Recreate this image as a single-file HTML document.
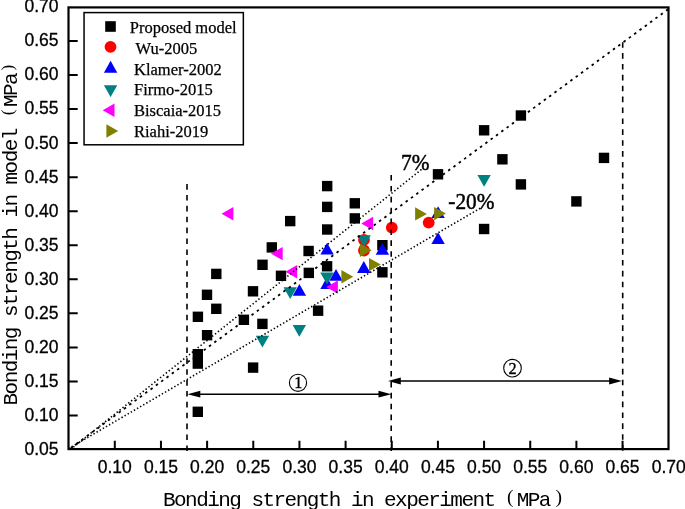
<!DOCTYPE html><html><head><meta charset="utf-8"><style>html,body{margin:0;padding:0;background:#fff;}svg{display:block;will-change:transform;}</style></head><body>
<svg width="685" height="509" viewBox="0 0 685 509">
<rect width="685" height="509" fill="#fff"/>
<g fill="#000"><rect x="192.60" y="349.00" width="10.4" height="10.4"/><rect x="192.60" y="358.40" width="10.4" height="10.4"/><rect x="192.60" y="406.60" width="10.4" height="10.4"/><rect x="192.70" y="311.60" width="10.4" height="10.4"/><rect x="201.80" y="289.60" width="10.4" height="10.4"/><rect x="201.90" y="330.00" width="10.4" height="10.4"/><rect x="211.10" y="268.70" width="10.4" height="10.4"/><rect x="211.10" y="303.60" width="10.4" height="10.4"/><rect x="238.70" y="314.60" width="10.4" height="10.4"/><rect x="247.80" y="286.10" width="10.4" height="10.4"/><rect x="247.90" y="362.40" width="10.4" height="10.4"/><rect x="257.30" y="259.60" width="10.4" height="10.4"/><rect x="257.20" y="318.70" width="10.4" height="10.4"/><rect x="266.60" y="242.20" width="10.4" height="10.4"/><rect x="275.80" y="270.60" width="10.4" height="10.4"/><rect x="285.00" y="215.90" width="10.4" height="10.4"/><rect x="303.40" y="245.80" width="10.4" height="10.4"/><rect x="303.60" y="267.70" width="10.4" height="10.4"/><rect x="312.90" y="305.50" width="10.4" height="10.4"/><rect x="322.00" y="180.90" width="10.4" height="10.4"/><rect x="322.00" y="201.70" width="10.4" height="10.4"/><rect x="322.00" y="224.30" width="10.4" height="10.4"/><rect x="321.90" y="261.10" width="10.4" height="10.4"/><rect x="349.60" y="198.10" width="10.4" height="10.4"/><rect x="349.60" y="213.20" width="10.4" height="10.4"/><rect x="377.20" y="240.00" width="10.4" height="10.4"/><rect x="377.20" y="267.10" width="10.4" height="10.4"/><rect x="432.80" y="169.10" width="10.4" height="10.4"/><rect x="478.90" y="125.10" width="10.4" height="10.4"/><rect x="478.90" y="223.80" width="10.4" height="10.4"/><rect x="497.20" y="154.10" width="10.4" height="10.4"/><rect x="515.70" y="110.30" width="10.4" height="10.4"/><rect x="515.70" y="179.20" width="10.4" height="10.4"/><rect x="571.20" y="196.20" width="10.4" height="10.4"/><rect x="598.80" y="152.70" width="10.4" height="10.4"/></g>
<g fill="#ff0000"><circle cx="391.80" cy="227.60" r="5.9"/><circle cx="364.00" cy="239.90" r="5.9"/><circle cx="364.00" cy="250.50" r="5.9"/><circle cx="428.70" cy="222.60" r="5.9"/></g>
<g fill="#0000ff"><path d="M327.10 242.80L333.80 254.60L320.40 254.60Z"/><path d="M382.40 242.90L389.10 254.70L375.70 254.70Z"/><path d="M336.00 269.00L342.70 280.80L329.30 280.80Z"/><path d="M327.00 277.10L333.70 288.90L320.30 288.90Z"/><path d="M299.40 284.00L306.10 295.80L292.70 295.80Z"/><path d="M363.80 261.10L370.50 272.90L357.10 272.90Z"/><path d="M438.10 206.20L444.80 218.00L431.40 218.00Z"/><path d="M438.10 232.30L444.80 244.10L431.40 244.10Z"/></g>
<g fill="#008080"><path d="M364.10 247.10L370.80 235.30L357.40 235.30Z"/><path d="M327.00 284.40L333.70 272.60L320.30 272.60Z"/><path d="M290.20 299.00L296.90 287.20L283.50 287.20Z"/><path d="M299.30 336.80L306.00 325.00L292.60 325.00Z"/><path d="M262.40 347.60L269.10 335.80L255.70 335.80Z"/><path d="M484.10 186.80L490.80 175.00L477.40 175.00Z"/></g>
<g fill="#ff00ff"><path d="M221.60 213.80L233.40 207.10L233.40 220.50Z"/><path d="M270.90 253.60L282.70 246.90L282.70 260.30Z"/><path d="M285.40 271.70L297.20 265.00L297.20 278.40Z"/><path d="M361.30 223.50L373.10 216.80L373.10 230.20Z"/><path d="M326.10 287.10L337.90 280.40L337.90 293.80Z"/></g>
<g fill="#808000"><path d="M371.70 250.30L359.90 243.60L359.90 257.00Z"/><path d="M380.80 264.60L369.00 257.90L369.00 271.30Z"/><path d="M353.20 276.80L341.40 270.10L341.40 283.50Z"/><path d="M426.90 213.90L415.10 207.20L415.10 220.60Z"/><path d="M445.90 213.60L434.10 206.90L434.10 220.30Z"/></g>
<line x1="68.6" y1="449.6" x2="668.5" y2="9.0" stroke="#000" stroke-width="1.8" stroke-dasharray="2.5 4.094" stroke-dashoffset="-2.77"/>
<line x1="70.4" y1="449.5" x2="421.8" y2="169.2" stroke="#000" stroke-width="1.6" stroke-dasharray="1.4 2.3"/>
<line x1="68.6" y1="448.6" x2="481.8" y2="207.3" stroke="#000" stroke-width="1.6" stroke-dasharray="1.4 2.2"/>
<g stroke="#000" stroke-width="1.6" stroke-dasharray="5.6 5.29">
<line x1="187.0" y1="451" x2="187.0" y2="184.0"/>
<line x1="391.2" y1="175" x2="391.2" y2="451"/>
<line x1="622.7" y1="450.7" x2="622.7" y2="41.6"/>
</g>
<g fill="#000"><line x1="193.5" y1="394.2" x2="385.3" y2="394.2" stroke="#000" stroke-width="1.6"/><path d="M187.5 394.2L200.3 390.8L200.3 397.59999999999997Z"/><path d="M391.3 394.2L378.5 390.8L378.5 397.59999999999997Z"/><line x1="394.0" y1="381.0" x2="615.9" y2="381.0" stroke="#000" stroke-width="1.6"/><path d="M388.0 381.0L400.8 377.6L400.8 384.4Z"/><path d="M621.9 381.0L609.1 377.6L609.1 384.4Z"/></g>
<g fill="none" stroke="#000" stroke-width="1.1"><circle cx="298" cy="382.8" r="8.6"/><circle cx="512.5" cy="368.2" r="8.8"/></g>
<g font-family="Liberation Serif, serif" font-size="16.3" text-anchor="middle" fill="#000" stroke="#000" stroke-width="0.35"><text x="298.2" y="388.3">1</text><text x="512.6" y="373.8">2</text></g>
<rect x="68.5" y="7.4" width="600.0" height="441.70000000000005" fill="none" stroke="#000" stroke-width="2.2"/>
<path d="M68.5 415.50H77.7M68.5 381.45H77.7M68.5 347.40H77.7M68.5 313.35H77.7M68.5 279.30H77.7M68.5 245.25H77.7M68.5 211.20H77.7M68.5 177.15H77.7M68.5 143.10H77.7M68.5 109.05H77.7M68.5 75.00H77.7M68.5 40.95H77.7M114.80 449.1V440.8M160.96 449.1V440.8M207.12 449.1V440.8M253.28 449.1V440.8M299.44 449.1V440.8M345.60 449.1V440.8M391.76 449.1V440.8M437.92 449.1V440.8M484.08 449.1V440.8M530.24 449.1V440.8M576.40 449.1V440.8M622.56 449.1V440.8" stroke="#000" stroke-width="2" fill="none"/>
<g font-family="Liberation Sans, sans-serif" font-size="17.5" fill="#000" stroke="#000" stroke-width="0.3"><text x="58.5" y="454.95" text-anchor="end">0.05</text><text x="58.5" y="420.90" text-anchor="end">0.10</text><text x="58.5" y="386.85" text-anchor="end">0.15</text><text x="58.5" y="352.80" text-anchor="end">0.20</text><text x="58.5" y="318.75" text-anchor="end">0.25</text><text x="58.5" y="284.70" text-anchor="end">0.30</text><text x="58.5" y="250.65" text-anchor="end">0.35</text><text x="58.5" y="216.60" text-anchor="end">0.40</text><text x="58.5" y="182.55" text-anchor="end">0.45</text><text x="58.5" y="148.50" text-anchor="end">0.50</text><text x="58.5" y="114.45" text-anchor="end">0.55</text><text x="58.5" y="80.40" text-anchor="end">0.60</text><text x="58.5" y="46.35" text-anchor="end">0.65</text><text x="58.5" y="12.30" text-anchor="end">0.70</text><text x="114.80" y="473.3" text-anchor="middle">0.10</text><text x="160.96" y="473.3" text-anchor="middle">0.15</text><text x="207.12" y="473.3" text-anchor="middle">0.20</text><text x="253.28" y="473.3" text-anchor="middle">0.25</text><text x="299.44" y="473.3" text-anchor="middle">0.30</text><text x="345.60" y="473.3" text-anchor="middle">0.35</text><text x="391.76" y="473.3" text-anchor="middle">0.40</text><text x="437.92" y="473.3" text-anchor="middle">0.45</text><text x="484.08" y="473.3" text-anchor="middle">0.50</text><text x="530.24" y="473.3" text-anchor="middle">0.55</text><text x="576.40" y="473.3" text-anchor="middle">0.60</text><text x="622.56" y="473.3" text-anchor="middle">0.65</text><text x="668.72" y="473.3" text-anchor="middle">0.70</text></g>
<g font-family="Liberation Serif, serif" font-size="21.3" fill="#000" stroke="#000" stroke-width="0.45"><text transform="translate(401.0,169.7) scale(1,1.09)">7%</text><text transform="translate(448.3,208.5) scale(1,1.09)">-20%</text></g>
<rect x="84.05" y="12.6" width="159.3" height="132.2" fill="#fff" stroke="#000" stroke-width="1.5"/>
<g fill="#000"><rect x="105.20" y="21.20" width="10.6" height="10.6"/></g><g fill="#ff0000"><circle cx="110.50" cy="46.80" r="5.9"/></g><g fill="#0000ff"><path d="M110.60 60.85L117.30 72.65L103.90 72.65Z"/></g><g fill="#008080"><path d="M110.60 97.10L117.30 85.30L103.90 85.30Z"/></g><g fill="#ff00ff"><path d="M102.70 110.20L114.50 103.50L114.50 116.90Z"/></g><g fill="#808000"><path d="M118.20 131.00L106.40 124.30L106.40 137.70Z"/></g>
<g font-family="Liberation Serif, serif" font-size="16.5" fill="#000" stroke="#000" stroke-width="0.25"><text x="129.8" y="32.6">Proposed model</text><text x="135.6" y="54.1">Wu-2005</text><text x="134.0" y="74.8">Klamer-2002</text><text x="134.0" y="95.0">Firmo-2015</text><text x="134.0" y="116.2">Biscaia-2015</text><text x="134.0" y="136.9">Riahi-2019</text></g>
<text x="163.03 174.08 185.12 196.18 207.22 218.28 229.33 240.38 251.43 262.48 273.53 284.58 295.63 306.68 317.73 328.78 339.83 350.88 361.93 372.98 384.03 395.08 406.13 417.18 428.23 439.28 450.33 461.38 472.43 483.48 494.53 505.58 516.63 527.68 538.73 549.77" y="505.6" font-family="Liberation Mono, monospace" font-size="21" fill="#000" xml:space="preserve">Bonding strength in experiment  MPa </text>
<g font-family="Liberation Serif, serif" font-size="19.5" text-anchor="middle" fill="#000"><text x="510.25" y="502.7">(</text><text x="558.85" y="502.7">)</text></g>
<text transform="translate(17,404.7) rotate(-90)" x="-0.77 10.28 21.33 32.38 43.43 54.48 65.53 76.58 87.62 98.67 109.72 120.78 131.83 142.88 153.93 164.97 176.03 187.08 198.12 209.18 220.22 231.28 242.33 253.38 264.43 275.48 286.53 297.58 308.63 319.68 330.73" y="0" font-family="Liberation Mono, monospace" font-size="21" fill="#000" xml:space="preserve">Bonding strength in model  MPa </text>
<g transform="translate(17,404.2) rotate(-90)" font-family="Liberation Serif, serif" font-size="17.3" text-anchor="middle" fill="#000"><text x="291.85" y="-4.20">(</text><text x="336.65" y="-4.20">)</text></g>
</svg></body></html>
